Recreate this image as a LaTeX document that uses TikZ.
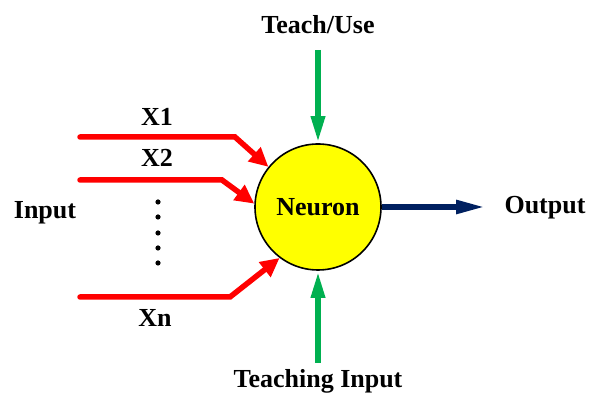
\documentclass[tikz,border=0pt]{standalone}
\usepackage{fontspec}
\newfontfamily\nnfont{Liberation Serif}[BoldFont={Liberation Serif Bold}]
\usepackage{tikz}
\usetikzlibrary{arrows.meta,positioning}
\definecolor{nnRed}{HTML}{FF0000}
\definecolor{nnGreen}{HTML}{00B050}
\definecolor{nnNavy}{HTML}{002060}
\definecolor{nnYellow}{HTML}{FFFF00}
\tikzset{
  etiqueta/.style={font=\nnfont\fontsize{26}{29}\selectfont\bfseries, inner sep=0pt},
  neurona/.style={circle, draw=black, line width=1.6pt, fill=nnYellow, minimum size=126pt, inner sep=0pt},
  arrin/.style={-{Triangle[length=19pt, width=18pt]}, line width=5.5pt, nnRed, line cap=round},
  arrteach/.style={-{Triangle[length=27pt, width=13pt]}, line width=6pt, nnGreen},
  arrout/.style={-{Triangle[length=29pt, width=13pt]}, line width=5.5pt, nnNavy},
}

\begin{document}
\begin{tikzpicture}[x=1pt, y=1pt]
\useasboundingbox (0,0) rectangle (589,395);
% Neuron
\node[neurona, etiqueta] (neuron) at (318,188) {Neuron};

% Inputs
\coordinate (x1s) at (80,258);
\coordinate (x1b) at (235,258);
\coordinate (x2s) at (80,215);
\coordinate (x2b) at (222,215);
\coordinate (xns) at (80,98);
\coordinate (xnb) at (230,98);
\draw[arrin] (x1s) -- (x1b) -- (neuron.141);
\draw[arrin] (x2s) -- (x2b) -- (neuron.177);
\draw[arrin] (xns) -- (xnb) -- (neuron.233);
\node[etiqueta] (lx1) at (157,278) {X1};
\node[etiqueta] (lx2) at (157,237) {X2};
\node[etiqueta] (lxn) at (155,77) {Xn};
\foreach \y in {193,178,162,147,132}
  \fill (158,\y) circle (2.6pt);
\node[etiqueta] (input) at (45,182) {Input};

% Teach / Use
\coordinate (ts) at (318,345);
\draw[arrteach] (ts) -- (neuron.north);
\node[etiqueta] (teach) at (318,370) {Teach/Use};

% Teaching input
\coordinate (tis) at (318,32);
\draw[arrteach] (tis) -- (neuron.south);
\node[etiqueta, anchor=base] (tinput) at (318,7.5) {Teaching Input};

% Output
\coordinate (oe) at (485,188);
\draw[arrout] (neuron.east) -- (oe);
\node[etiqueta] (output) at (545,187) {Output};
\end{tikzpicture}
\end{document}
